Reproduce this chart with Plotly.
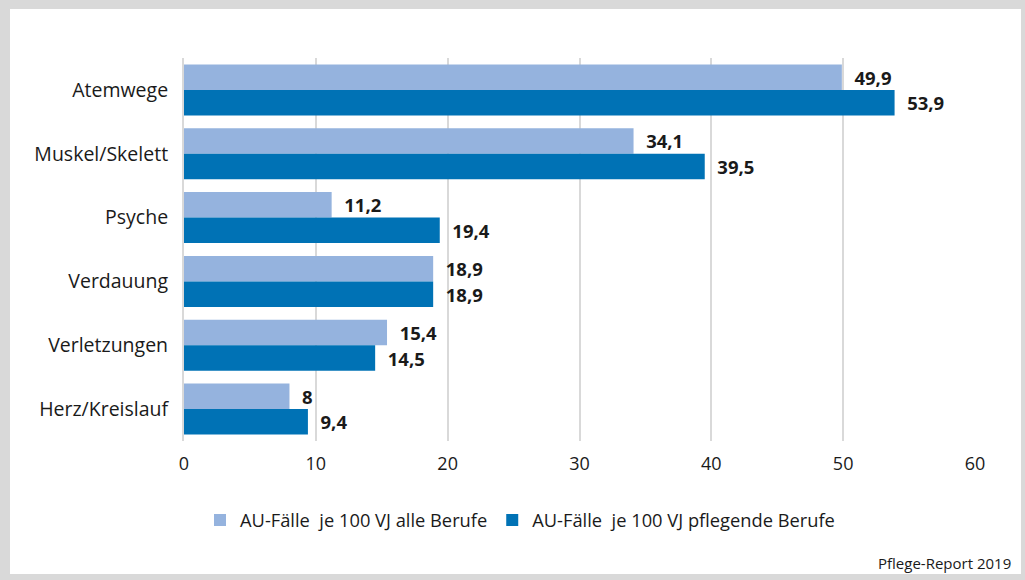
import plotly.graph_objects as go

# Daten
categories = ['Atemwege', 'Muskel/Skelett', 'Psyche', 'Verdauung', 'Verletzungen', 'Herz/Kreislauf']
alle_berufe = [49.9, 34.1, 11.2, 18.9, 15.4, 8]
pflegende_berufe = [53.9, 39.5, 19.4, 18.9, 14.5, 9.4]
x_ticks = [0, 10, 20, 30, 40, 50, 60]

W, H = 1025, 580
L, R, T, B = 184, 50, 58, 139


# Pixel -> paper Koordinaten
def px_x(p):
    return (p - L) / (W - L - R)


def px_y(p):
    return (H - B - p) / (H - T - B)


def fmt(v):
    return '  ' + f"{v:g}".replace('.', ',')


label_font = dict(family='Open Sans', size=18.5, color='#1a1a1a', weight='bold')

fig = go.Figure()
fig.add_trace(go.Bar(
    y=categories, x=alle_berufe, orientation='h',
    name='AU-Fälle  je 100 VJ alle Berufe',
    marker=dict(color='#95B3DE', line=dict(width=0)),
    text=[fmt(v) for v in alle_berufe], textposition='outside', cliponaxis=False,
    textfont=label_font,
))
fig.add_trace(go.Bar(
    y=categories, x=pflegende_berufe, orientation='h',
    name='AU-Fälle  je 100 VJ pflegende Berufe',
    marker=dict(color='#0072B5', line=dict(width=0)),
    text=[fmt(v) for v in pflegende_berufe], textposition='outside', cliponaxis=False,
    textfont=label_font,
))

# Rahmen um das Diagramm
frame = '#D9D9D9'
shapes = []
for x0, y0, x1, y1 in [(0, 0, 1025, 9), (0, 574, 1025, 580), (0, 0, 10, 580), (1021, 0, 1025, 580)]:
    shapes.append(dict(type='rect', xref='paper', yref='paper',
                       x0=px_x(x0), x1=px_x(x1), y0=px_y(y0), y1=px_y(y1),
                       fillcolor=frame, line=dict(width=0), layer='above'))

fig.update_layout(
    width=W, height=H,
    margin=dict(l=L, r=R, t=T, b=B, autoexpand=False),
    plot_bgcolor='white', paper_bgcolor='white',
    barmode='group', bargap=0.2, bargroupgap=0,
    font=dict(family='Open Sans', size=18, color='#1a1a1a'),
    xaxis=dict(range=[0, 60], tickvals=x_ticks, showgrid=True, gridcolor='#D9D9D9', gridwidth=2,
               zeroline=False, showline=False, ticks='', ticklabelstandoff=10,
               tickfont=dict(size=18)),
    yaxis=dict(autorange='reversed', showline=True, linecolor='#D9D9D9', linewidth=2,
               ticks='', ticklabelstandoff=10, tickfont=dict(size=19.5)),
    legend=dict(orientation='h', x=px_x(520), xanchor='center', y=px_y(520), yanchor='middle',
                font=dict(size=18.3), traceorder='normal'),
    shapes=shapes,
    annotations=[dict(text='Pflege-Report 2019', xref='paper', yref='paper',
                      x=px_x(1013), y=px_y(563), xanchor='right', yanchor='middle',
                      showarrow=False, font=dict(size=15, color='#1a1a1a'))],
)

# Seitenrand im Browser entfernen, damit die Grafik bei (0,0) beginnt
fig.write_html('out.html', config={'displayModeBar': False},
               post_script="document.body.style.margin='0';")
